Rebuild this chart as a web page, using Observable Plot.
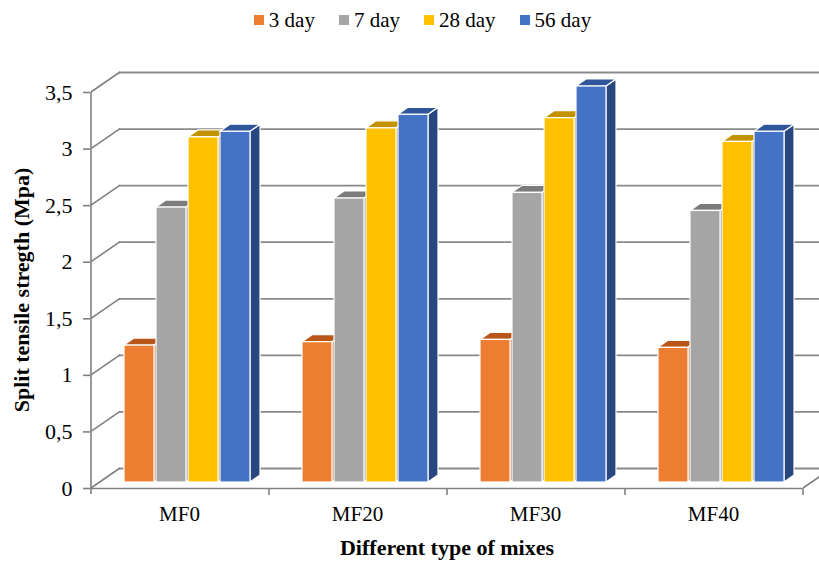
<!DOCTYPE html>
<html><head><meta charset="utf-8">
<script src="https://cdn.jsdelivr.net/npm/d3@7"></script>
<script src="https://cdn.jsdelivr.net/npm/@observablehq/plot@0.6"></script>
<style>
body{margin:0;background:#fff;font-family:"Liberation Serif","Times New Roman",serif;}
#legend{height:40px;width:819px;box-sizing:border-box;padding-left:26px;display:flex;justify-content:center;align-items:center;gap:24px;font-size:21px;color:#000;}
.item{display:flex;align-items:center;}
.sw{width:10px;height:10px;margin-right:5px;}
</style></head><body>
<div id="legend"></div>
<div id="chart"></div>
<script>
const mixes = ["MF0", "MF20", "MF30", "MF40"];
const series = ["3 day", "7 day", "28 day", "56 day"];
const day3  = [1.21, 1.24, 1.26, 1.19];
const day7  = [2.43, 2.51, 2.56, 2.40];
const day28 = [3.05, 3.13, 3.22, 3.01];
const day56 = [3.10, 3.25, 3.50, 3.10];
const yTicks = [0, 0.5, 1, 1.5, 2, 2.5, 3, 3.5];
const frontColors = ["#ED7D31", "#A5A5A5", "#FFC000", "#4472C4"];
const topColors   = ["#B9571B", "#7C7C7C", "#C39200", "#2F559A"];
const sideColors  = ["#A34A15", "#6E6E6E", "#A87E00", "#28477F"];
const yTitle = "Split tensile stregth (Mpa)";
const xTitle = "Different type of mixes";

const seriesValues = [day3, day7, day28, day56];
const data = mixes.flatMap((m, i) => series.map((s, j) => ({mix: m, series: s, value: seriesValues[j][i]})));
const frameRows = yTicks.map(v => ({mix: mixes[0], v}));

const axisColor = "#808080";
const gridColor = "#8a8a8a";
const DX = 29, DY = 20;   // depth of the wall / floor
const BX = 10, BY = 7;    // depth of a bar

// legend
const legend = d3.select("#legend");
series.forEach((s, j) => {
  const it = legend.append("div").attr("class", "item");
  it.append("div").attr("class", "sw").style("background", frontColors[j]);
  it.append("span").text(s);
});

const svgNS = "http://www.w3.org/2000/svg";
function bar3d(index, scales, values, dims, ctx, next) {
  const g = next(index, scales, values, dims, ctx);
  const rects = Array.from(g.querySelectorAll("rect"));
  rects.forEach((r, k) => {
    const i = index[k];
    const s = series.indexOf(data[i].series);
    const x = +r.getAttribute("x"), y = +r.getAttribute("y");
    const w = +r.getAttribute("width"), h = +r.getAttribute("height");
    const side = document.createElementNS(svgNS, "polygon");
    side.setAttribute("points", `${x + w},${y} ${x + w + BX},${y - BY} ${x + w + BX},${y + h - BY} ${x + w},${y + h}`);
    side.setAttribute("fill", sideColors[s]);
    const top = document.createElementNS(svgNS, "polygon");
    top.setAttribute("points", `${x},${y} ${x + w},${y} ${x + w + BX},${y - BY} ${x + BX},${y - BY}`);
    top.setAttribute("fill", topColors[s]);
    r.parentNode.insertBefore(side, r);
    r.parentNode.insertBefore(top, r);
  });
  return g;
}

function frameRender(index, scales, values, dims) {
  const fx = scales.fx;
  const x0 = fx ? fx(mixes[0]) : dims.marginLeft;
  const x1 = fx ? fx(mixes[mixes.length - 1]) + fx.bandwidth() : dims.width - dims.marginRight;
  const y0 = scales.y(0), yTop = scales.y(yTicks[yTicks.length - 1]);
  const g = d3.create("svg:g");
  const lines = g.append("g").attr("stroke", axisColor).attr("stroke-width", 1.6).attr("fill", "none");
  for (const i of index) {
    const y = values.y[i];
    lines.append("line").attr("x1", x0).attr("y1", y).attr("x2", x0 + DX).attr("y2", y - DY);
  }
  lines.append("line").attr("x1", x0).attr("x2", x0).attr("y1", yTop).attr("y2", y0 + 6);
  lines.append("line").attr("x1", x1).attr("y1", y0).attr("x2", x1 + DX).attr("y2", y0 - DY);
  if (fx) {
    for (const m of mixes.slice(1)) {
      const x = fx(m);
      lines.append("line").attr("x1", x).attr("x2", x).attr("y1", y0).attr("y2", y0 + 7);
    }
  }
  lines.append("line").attr("x1", x1).attr("x2", x1).attr("y1", y0).attr("y2", y0 + 7);
  // titles
  g.append("text")
    .attr("transform", `translate(28,${(y0 + yTop) / 2}) rotate(-90)`)
    .attr("text-anchor", "middle").attr("font-weight", "bold").attr("font-size", 22).attr("fill", "#000")
    .text(yTitle);
  g.append("text")
    .attr("x", (x0 + x1) / 2).attr("y", y0 + 67)
    .attr("text-anchor", "middle").attr("font-weight", "bold").attr("font-size", 22).attr("fill", "#000")
    .text(xTitle);
  return g.node();
}

const chart = Plot.plot({
  width: 819,
  height: 521,
  marginLeft: 89,
  marginRight: 16,
  marginTop: 52,
  marginBottom: 73,
  style: {fontFamily: "Liberation Serif, Times New Roman, serif", background: "white", color: "#000", overflow: "visible"},
  fx: {domain: mixes, padding: 0, axis: null, label: null},
  x: {domain: series, paddingInner: 0.05, paddingOuter: 0.79, axis: null},
  y: {domain: [0, 3.5], axis: null},
  color: {domain: series, range: frontColors},
  marks: [
    Plot.ruleY(yTicks, {dx: DX, dy: -DY, stroke: gridColor, strokeWidth: 1.8}),
    Plot.ruleY(frameRows, {fx: "mix", y: "v", render: frameRender}),
    Plot.ruleY([0], {stroke: axisColor, strokeWidth: 1.6}),
    Plot.barY(data, {fx: "mix", x: "series", y: "value", fill: "series", stroke: "white", strokeWidth: 1.2, dx: 8, dy: -6, render: bar3d}),
    Plot.axisY({ticks: yTicks, tickFormat: d => String(d).replace(".", ","), tickSize: 7, tickPadding: 11, fontSize: 22, stroke: axisColor, strokeWidth: 1.6, label: null}),
    Plot.axisFx({anchor: "bottom", tickSize: 0, tickPadding: 18, fontSize: 21, label: null})
  ]
});
document.getElementById("chart").appendChild(chart);
</script>
</body></html>
